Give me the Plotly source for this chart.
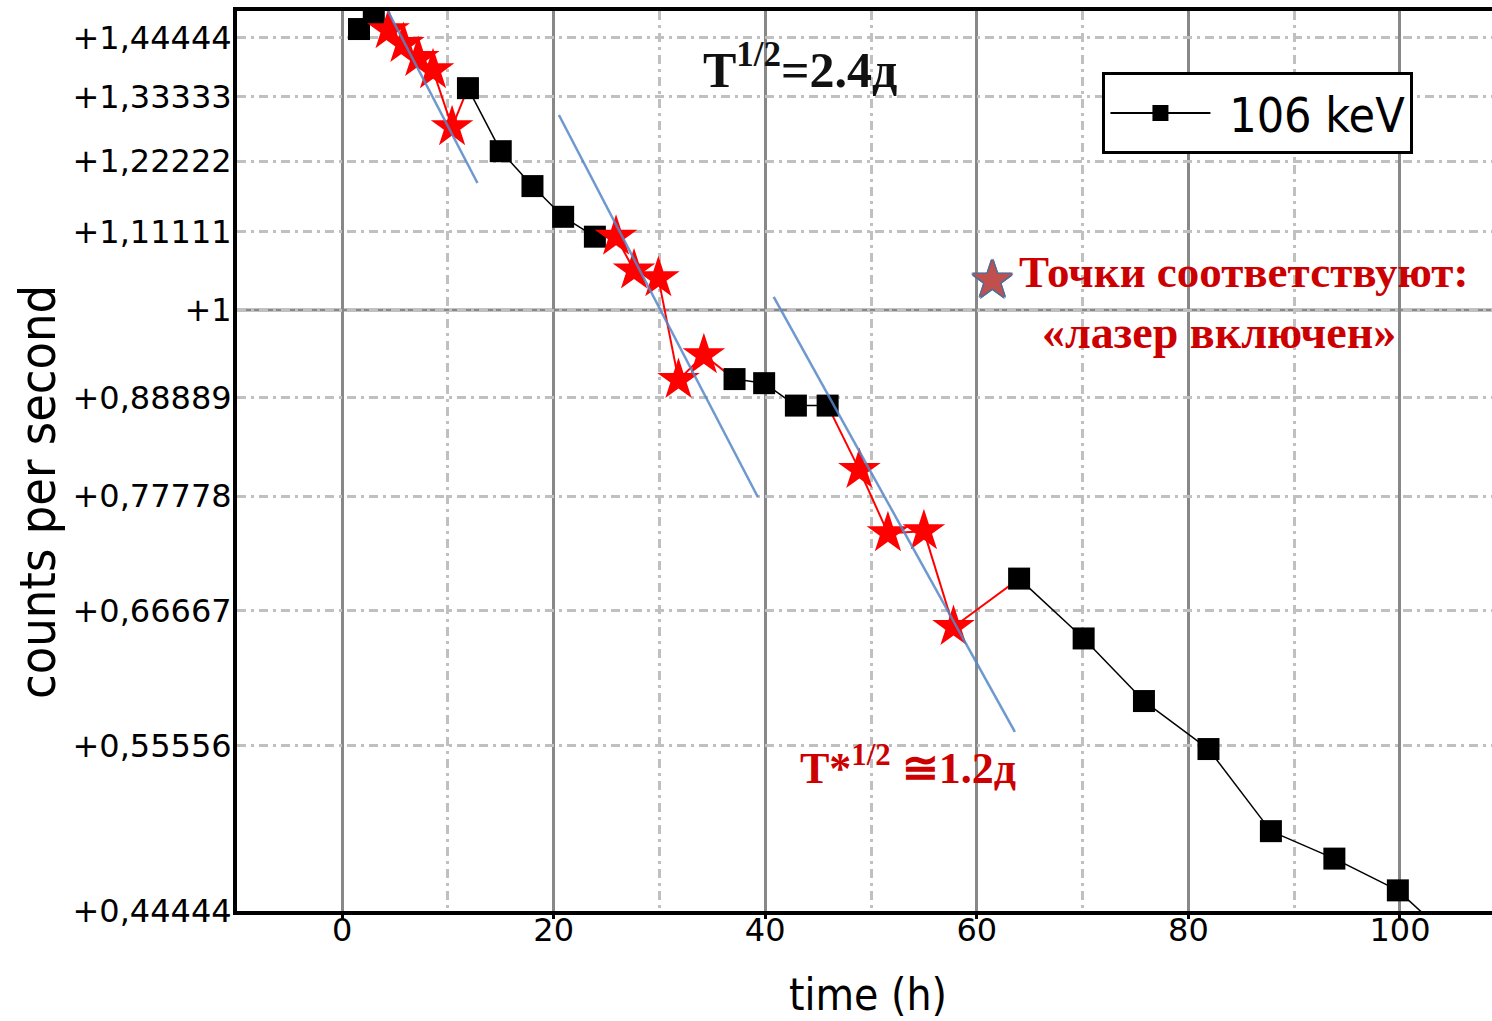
import plotly.graph_objects as go

# ---------------- data ----------------
square_t = [1.6, 3.0, 11.9, 15.0, 18.0, 20.9, 23.9, 37.1, 39.9, 42.9, 45.9,
            64.0, 70.1, 75.8, 81.9, 87.8, 93.8, 99.8, 105.7]
square_cps = [1.461, 1.491, 1.349, 1.239, 1.182, 1.134, 1.104, 0.911, 0.906, 0.879, 0.879,
              0.696, 0.642, 0.590, 0.553, 0.495, 0.477, 0.457, 0.423]

star_t = [4.4, 5.8, 7.2, 8.6, 10.4, 25.9, 27.6, 29.9, 31.8, 34.2, 48.9, 51.6, 55.0, 57.8]
star_cps = [1.459, 1.432, 1.405, 1.382, 1.280, 1.104, 1.055, 1.044, 0.910, 0.941,
            0.806, 0.740, 0.742, 0.652]

fit1_t = [3.8, 12.8]
fit1_cps = [1.519, 1.187]
fit2_t = [20.5, 39.3]
fit2_cps = [1.301, 0.777]
fit3_t = [40.8, 63.6]
fit3_cps = [1.018, 0.566]

y_tick_vals = [0.44444, 0.55556, 0.66667, 0.77778, 0.88889, 1.0,
               1.11111, 1.22222, 1.33333, 1.44444]
y_tick_text = ["+0,44444", "+0,55556", "+0,66667", "+0,77778", "+0,88889", "+1",
               "+1,11111", "+1,22222", "+1,33333", "+1,44444"]
x_tick_vals = [0, 20, 40, 60, 80, 100]
y_solid_grid = 1.0

series_name = " 106 keV"

# ---------------- build segments ----------------
pts = sorted([(t, c, "sq") for t, c in zip(square_t, square_cps)] +
             [(t, c, "st") for t, c in zip(star_t, star_cps)])
bx, by, rx, ry = [], [], [], []
for a, b in zip(pts[:-1], pts[1:]):
    if a[2] == "sq" and b[2] == "sq":
        bx += [a[0], b[0], None]
        by += [a[1], b[1], None]
    else:
        rx += [a[0], b[0], None]
        ry += [a[1], b[1], None]

fx = fit1_t + [None] + fit2_t + [None] + fit3_t
fy = fit1_cps + [None] + fit2_cps + [None] + fit3_cps

NARROW = "DejaVu Sans Condensed, DejaVu Sans, sans-serif"
SERIF = "Liberation Serif, Times New Roman, serif"
DARKRED = "#CC0000"
DOT = "9px,5px,3px,5px"

fig = go.Figure()
fig.add_trace(go.Scatter(x=bx, y=by, mode="lines", line=dict(color="black", width=1.5),
                         showlegend=False, hoverinfo="skip"))
fig.add_trace(go.Scatter(x=rx, y=ry, mode="lines", line=dict(color="#FF0000", width=2),
                         showlegend=False, hoverinfo="skip"))
fig.add_trace(go.Scatter(x=square_t, y=square_cps, mode="markers",
                         marker=dict(symbol="square", size=22, color="black", line=dict(width=0)),
                         showlegend=False))
fig.add_trace(go.Scatter(x=star_t, y=star_cps, mode="markers",
                         marker=dict(symbol="star", size=32, color="#FF0000", line=dict(width=0)),
                         showlegend=False))
fig.add_trace(go.Scatter(x=fx, y=fy, mode="lines",
                         line=dict(color="rgba(85,135,200,0.85)", width=2.5),
                         showlegend=False, hoverinfo="skip"))
# legend entry
fig.add_trace(go.Scatter(x=[None], y=[None], mode="lines+markers", name=series_name,
                         line=dict(color="black", width=2),
                         marker=dict(symbol="square", size=22, color="black")))

fig.update_layout(
    width=1492, height=1021,
    margin=dict(l=237, r=0, t=11, b=110),
    paper_bgcolor="white", plot_bgcolor="white",
    font=dict(family="DejaVu Sans", color="black"),
    legend=dict(x=0.6896, y=0.932, xanchor="left", yanchor="top",
                bgcolor="white", bordercolor="black", borderwidth=3,
                font=dict(family=NARROW, size=48, color="black"),
                itemwidth=100),
    xaxis=dict(range=[-9.93, 108.7], tickvals=x_tick_vals,
               showline=True, linecolor="black", linewidth=4, mirror=True,
               ticks="outside", ticklen=4, tickwidth=3, tickcolor="black",
               ticklabelstandoff=-16,
               showgrid=True, gridcolor="#888888", gridwidth=3,
               zeroline=False,
               tickfont=dict(family="DejaVu Sans", size=32, color="black"),
               minor=dict(dtick=10, tick0=0, showgrid=True, gridcolor="#C0C0C0",
                          gridwidth=3, griddash=DOT, ticks="")),
    yaxis=dict(type="log", range=[-0.35218, 0.17522],
               tickvals=y_tick_vals, ticktext=y_tick_text,
               showline=True, linecolor="black", linewidth=4,
               ticks="", ticklabelstandoff=-5,
               showgrid=True, gridcolor="#C0C0C0", gridwidth=3,
               griddash=DOT, zeroline=False,
               tickfont=dict(family="DejaVu Sans", size=32, color="black")),
)

fig.add_shape(type="line", xref="paper", yref="y", x0=0, x1=1,
              y0=y_solid_grid, y1=y_solid_grid,
              line=dict(color="#888888", width=3), layer="between")

outline = ("1.5px 0 0 #4F6D9A, -1.5px 0 0 #4F6D9A, 0 1.5px 0 #4F6D9A, 0 -1.5px 0 #4F6D9A, "
           "1px 1px 0 #4F6D9A, -1px -1px 0 #4F6D9A, 1px -1px 0 #4F6D9A, -1px 1px 0 #4F6D9A")

ann = []
ann.append(dict(text="counts per second", xref="paper", yref="paper",
                x=-0.1586, y=0.4656, textangle=-90, showarrow=False,
                xanchor="center", yanchor="middle",
                font=dict(family=NARROW, size=50, color="black")))
ann.append(dict(text="time (h)", xref="paper", yref="paper",
                x=0.5028, y=-0.0925, showarrow=False,
                xanchor="center", yanchor="middle",
                font=dict(family=NARROW, size=44, color="black")))
ann.append(dict(text="<b>T<sup>1/2</sup>=2.4д</b>", xref="paper", yref="paper",
                x=0.4486, y=0.938, showarrow=False, xanchor="center", yanchor="middle",
                font=dict(family=SERIF, size=50, color="#111111")))
ann.append(dict(text="<b>T*<sup>1/2</sup> ≅1.2д</b>", xref="paper", yref="paper",
                x=0.5343, y=0.1622, showarrow=False, xanchor="center", yanchor="middle",
                font=dict(family=SERIF, size=44, color=DARKRED)))
ann.append(dict(text="<b>Точки соответствуют:</b>", xref="paper", yref="paper",
                x=(1243 - 237) / 1255, y=(911 - 272) / 900, showarrow=False,
                xanchor="center", yanchor="middle",
                font=dict(family=SERIF, size=45, color=DARKRED)))
ann.append(dict(text="<b>«лазер включен»</b>", xref="paper", yref="paper",
                x=(1219 - 237) / 1255, y=(911 - 332) / 900, showarrow=False,
                xanchor="center", yanchor="middle",
                font=dict(family=SERIF, size=46, color=DARKRED)))
ann.append(dict(text="★", xref="paper", yref="paper",
                x=(992 - 237) / 1255, y=(911 - 279) / 900, showarrow=False,
                xanchor="center", yanchor="middle",
                font=dict(family="DejaVu Sans", size=52, color="#C0504D", shadow=outline)))
fig.update_layout(annotations=ann)

fig.write_html("out.html", config={"displayModeBar": False},
               post_script="document.body.style.margin='0px';")
